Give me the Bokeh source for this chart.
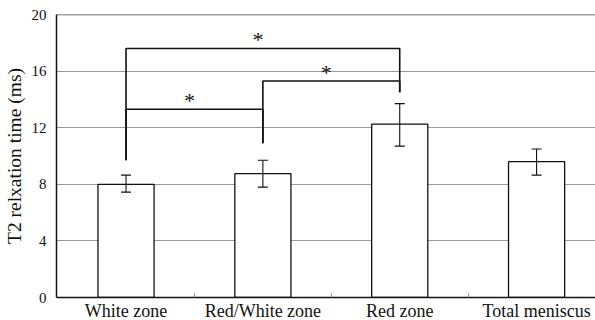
from bokeh.plotting import figure
from bokeh.models import (ColumnDataSource, Range1d, FixedTicker, Whisker, TeeHead, Span)
from bokeh.core.properties import value
from bokeh.embed import file_html
from bokeh.resources import INLINE

categories = ["White zone", "Red/White zone", "Red zone", "Total meniscus"]
means = [8.0, 8.75, 12.25, 9.6]
err_low = [7.45, 7.8, 10.7, 8.65]
err_high = [8.65, 9.7, 13.7, 10.5]

# significance brackets: (from category index, to category index, bracket level)
br_from = [0, 0, 1]
br_to = [1, 2, 2]
br_level = [13.3, 17.6, 15.3]
# lower end of the bracket legs per category index
leg_bottom = {0: 9.7, 1: 10.9, 2: 14.5}

FONT = "Liberation Serif"

xc = [i + 0.5 for i in range(len(categories))]

p = figure(width=600, height=323, x_range=Range1d(-0.008, 3.967), y_range=Range1d(0, 20),
           output_backend="svg", toolbar_location=None,
           min_border_left=0, min_border_right=0, min_border_top=14, min_border_bottom=0)
p.outline_line_color = None
p.background_fill_color = "white"
p.border_fill_color = "white"

p.xgrid.visible = False
p.ygrid.ticker = FixedTicker(ticks=[4, 8, 12, 16])
p.ygrid.grid_line_color = "#9a9a9a"
p.ygrid.grid_line_width = 1.2

p.add_layout(Span(location=20, dimension="width", line_color="#444444", line_width=1.5))

src = ColumnDataSource(dict(x=xc, top=means, lo=err_low, hi=err_high))
p.vbar(x="x", top="top", width=0.41, source=src, fill_color="white",
       line_color="#111111", line_width=1.3)
p.add_layout(Whisker(base="x", lower="lo", upper="hi", source=src, level="overlay",
                     line_color="#111111", line_width=1.1,
                     upper_head=TeeHead(size=10, line_color="#111111", line_width=1.1),
                     lower_head=TeeHead(size=10, line_color="#111111", line_width=1.1)))

xs, ys = [], []
ax, ay = [], []
for a, b, lv in zip(br_from, br_to, br_level):
    xa, xb = xc[a], xc[b]
    xs.append([xa, xa, xb, xb])
    ys.append([leg_bottom[a], lv, lv, leg_bottom[b]])
    ax.append((xa + xb) / 2)
    ay.append(lv)
p.multi_line(xs=xs, ys=ys, line_color="#111111", line_width=1.6)
p.text(x=ax, y=ay, text=["*"] * len(ax), text_font=value(FONT), text_font_size="22px",
       text_align="center", text_baseline="middle", x_offset=-5, y_offset=-9,
       text_color="#111111")

p.xaxis.ticker = FixedTicker(ticks=xc, minor_ticks=[1, 2, 3])
p.xaxis.major_label_overrides = {x: c for x, c in zip(xc, categories)}
p.xaxis.major_tick_in = 0
p.xaxis.major_tick_out = 0
p.xaxis.minor_tick_in = 4
p.xaxis.minor_tick_out = 0
p.xaxis.minor_tick_line_color = "#888888"
p.xaxis.axis_line_color = "#111111"
p.xaxis.axis_line_width = 1.5
p.xaxis.major_label_standoff = 3
p.xaxis.major_label_text_font = FONT
p.xaxis.major_label_text_font_size = "18px"
p.xaxis.major_label_text_color = "#111111"

p.yaxis.ticker = FixedTicker(ticks=[0, 4, 8, 12, 16, 20])
p.yaxis.major_tick_in = 0
p.yaxis.major_tick_out = 0
p.yaxis.minor_tick_line_color = None
p.yaxis.axis_line_color = "#111111"
p.yaxis.axis_line_width = 1.5
p.yaxis.major_label_standoff = 10
p.yaxis.major_label_text_font = FONT
p.yaxis.major_label_text_font_size = "15px"
p.yaxis.major_label_text_color = "#111111"
p.yaxis.axis_label = "T2 relxation time (ms)"
p.yaxis.axis_label_text_font = FONT
p.yaxis.axis_label_text_font_style = "normal"
p.yaxis.axis_label_text_font_size = "19.5px"
p.yaxis.axis_label_text_color = "#111111"
p.yaxis.axis_label_standoff = 4

open("out.html", "w").write(file_html(p, INLINE))
